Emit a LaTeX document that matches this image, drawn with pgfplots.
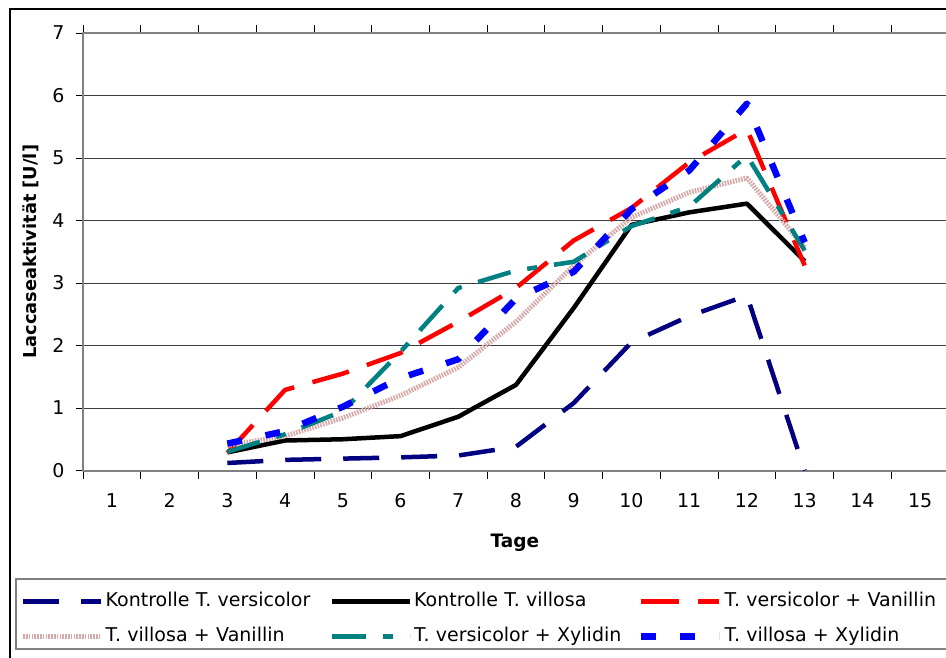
\documentclass[border=0pt]{standalone}
\usepackage{fontspec}
\setmainfont{DejaVu Sans}
\usepackage{pgfplots}
\pgfplotsset{compat=1.18}

\definecolor{navyline}{RGB}{0,0,128}
\definecolor{tealline}{RGB}{0,128,128}
\definecolor{pinkline}{RGB}{214,168,168}
\definecolor{gridgray}{RGB}{60,60,60}
\definecolor{framegray}{RGB}{128,128,128}

\newcommand{\chartfont}{\fontsize{19}{23}\selectfont}

\begin{document}
\begin{tikzpicture}[x=1pt,y=1pt]
% chart area frame
\draw[black, line width=1.3pt] (10,-20) rectangle (990,648);
% legend frame
\draw[framegray, line width=2pt] (16,8) rectangle (990,78);

\begin{axis}[
  at={(83pt,186.5pt)}, anchor=south west,
  scale only axis, width=866pt, height=437.5pt,
  xmin=0.5, xmax=15.5, ymin=0, ymax=7,
  xtick={1,...,15},
  minor xtick={0.5,1.5,...,15.5},
  ytick={0,...,7},
  major x tick style={draw=none},
  tick align=outside,
  major tick length=7pt, minor tick length=8pt,
  tick style={black, line width=0.8pt},
  every minor tick/.append style={black, line width=0.8pt},
  ymajorgrids,
  major grid style={gridgray, line width=1pt},
  axis line style={framegray, line width=2pt},
  /pgf/number format/assume math mode=true,
  ticklabel style={font=\chartfont},
  xticklabel style={anchor=base, yshift=-30pt},
  yticklabel style={anchor=east, xshift=-8pt},
  xlabel={Tage},
  xlabel style={at={(axis description cs:0.4988,-0.1657)}, anchor=center,
    font=\bfseries\fontsize{18.5}{22}\selectfont},
  ylabel={Laccaseaktivität [U/l]},
  ylabel style={at={(axis description cs:-0.060,0.5)}, anchor=center,
    font=\bfseries\fontsize{17.8}{22}\selectfont},
  legend columns=3,
  legend cell align=left,
  legend image code/.code={\draw[#1] (0pt,0pt) -- (78pt,0pt);},
  legend style={at={(axis description cs:-0.0722,-0.2595)}, anchor=north west,
    draw=none, fill=none, inner sep=0pt, column sep=0pt, row sep=0pt,
    nodes={inner xsep=2pt, inner ysep=8pt, text width=222pt, align=left,
      text height=14pt, text depth=5pt, font=\chartfont}},
  line join=round,
]

% Kontrolle T. versicolor
\addplot[navyline, line width=4.5pt, dash pattern={on 36pt off 22pt}] coordinates {
  (3,0.12) (4,0.17) (5,0.19) (6,0.21) (7,0.24) (8,0.38) (9,1.08)
  (10,2.05) (11,2.47) (12,2.80) (13,0)};
\addlegendentry{Kontrolle T. versicolor}

% Kontrolle T. villosa
\addplot[black, line width=4.5pt] coordinates {
  (3,0.29) (4,0.48) (5,0.50) (6,0.55) (7,0.86) (8,1.37) (9,2.60)
  (10,3.93) (11,4.13) (12,4.27) (13,3.35)};
\addlegendentry{Kontrolle T. villosa}

% T. versicolor + Vanillin
\addplot[red, line width=4.5pt, dash pattern={on 38pt off 19pt}] coordinates {
  (3,0.28) (4,1.29) (5,1.55) (6,1.88) (7,2.38) (8,2.92) (9,3.68)
  (10,4.20) (11,4.93) (12,5.46) (13,3.28)};
\addlegendentry{T. versicolor + Vanillin}

% T. villosa + Vanillin
\addplot[pinkline, line width=5pt, dash pattern={on 1.6pt off 1.2pt}] coordinates {
  (3,0.40) (4,0.55) (5,0.84) (6,1.20) (7,1.65) (8,2.38) (9,3.28)
  (10,4.05) (11,4.45) (12,4.68) (13,3.57)};
\addlegendentry{T. villosa + Vanillin}

% T. versicolor + Xylidin
\addplot[tealline, line width=4.5pt, dash pattern={on 34pt off 17pt on 10pt off 17pt}] coordinates {
  (3,0.30) (4,0.58) (5,0.95) (6,1.90) (7,2.92) (8,3.20) (9,3.34)
  (10,3.91) (11,4.22) (12,5.04) (13,3.52)};
\addlegendentry{T. versicolor + Xylidin}

% T. villosa + Xylidin
\addplot[blue, line width=6.5pt, dash pattern={on 15pt off 24pt}] coordinates {
  (3,0.43) (4,0.63) (5,1.02) (6,1.48) (7,1.78) (8,2.75) (9,3.18)
  (10,4.18) (11,4.80) (12,5.87) (13,3.65)};
\addlegendentry{T. villosa + Xylidin}

\end{axis}

\pgfresetboundingbox
\useasboundingbox (0,0) rectangle (946,657);
\end{tikzpicture}
\end{document}
